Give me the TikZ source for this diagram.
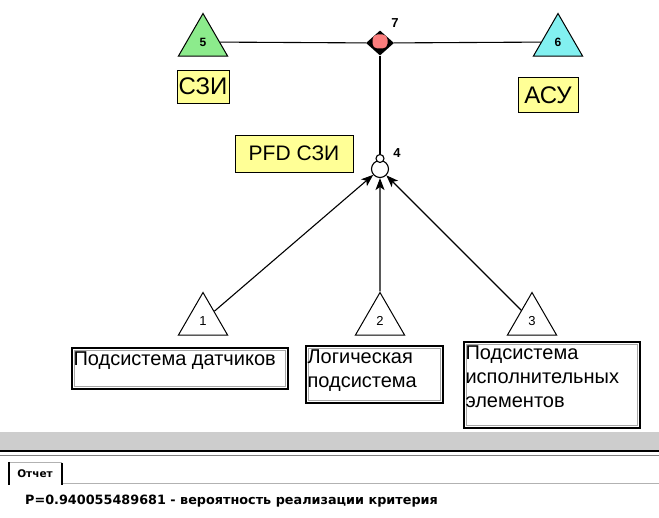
\documentclass[tikz,border=0pt]{standalone}
\usepackage{fontspec}
\setmainfont{Liberation Sans}
\newfontfamily\uifont{DejaVu Sans}
\usetikzlibrary{arrows.meta, shapes.geometric}

\definecolor{szigreen}{RGB}{140,235,140}
\definecolor{acucyan}{RGB}{130,240,240}
\definecolor{tagyellow}{RGB}{255,255,150}
\definecolor{corepink}{RGB}{250,125,125}
\definecolor{bandgray}{RGB}{205,205,205}

\begin{document}
\begin{tikzpicture}[x=1pt, y=-1pt,
    tri/.style={regular polygon, regular polygon sides=3, draw, line width=1pt,
      minimum size=57pt, inner sep=0pt, font=\fontsize{13}{13}\selectfont},
    tag/.style={fill=tagyellow, draw, line width=0.9pt, inner sep=1pt,
      font=\fontsize{24}{24}\selectfont},
    subbox/.style={draw, line width=1.3pt, inner sep=0pt},
    subtext/.style={anchor=north west, align=left, inner xsep=2pt, inner ysep=4pt,
      font=\fontsize{20}{24}\selectfont},
    arr/.style={line width=1.1pt, -{Stealth[length=12pt, width=9pt, inset=3pt]}},
    wire/.style={line width=1.1pt}]
    \useasboundingbox (0,0) rectangle (659,518);

    % Top level: the two events joined at gate 7
    \node[tri, fill=szigreen, font=\fontsize{12}{12}\selectfont\bfseries] (t5) at (203,42) {5};
    \node[tri, fill=acucyan, font=\fontsize{12}{12}\selectfont\bfseries] (t6) at (558,42) {6};
    \node[diamond, fill=black, minimum width=28pt, minimum height=25pt, inner sep=0pt] (n7) at (380,43) {};
    \node[rectangle, rounded corners=5pt, fill=corepink, minimum width=15pt, minimum height=14pt, inner sep=0pt] (n7core) at (380,41.5) {};
    \node[font=\fontsize{13}{13}\selectfont\bfseries] (l7) at (395,23) {7};
    \draw[wire] (t5) -- (n7);
    \draw[wire] (n7) -- (t6);

    % Labels of the top events
    \node[tag, minimum width=52pt, minimum height=33pt] (szi) at (203,86.5) {СЗИ};
    \node[tag, minimum width=60pt, minimum height=35pt] (acu) at (548,95) {АСУ};
    \node[tag, minimum width=118pt, minimum height=37pt, font=\fontsize{21}{21}\selectfont] (pfd) at (294,153.5) {PFD СЗИ\hspace{12pt}};

    % Gate 4
    \node[circle, draw, line width=1.1pt, minimum size=17pt, inner sep=0pt] (n4) at (380,169) {};
    \node[circle, draw, fill=white, line width=1.1pt, minimum size=8pt, inner sep=0pt] (n4top) at (380,158.5) {};
    \node[font=\fontsize{13}{13}\selectfont\bfseries] (l4) at (397,153) {4};
    \draw[wire] (n7) -- (n4top);

    % Subsystems 1..3
    \foreach \i/\x in {1/203, 2/380, 3/532} {
      \node[tri, fill=white] (t\i) at (\x,321) {\i};
      \draw[arr] (t\i) -- (n4);
    }

    % Subsystem captions
    \node[subbox, minimum width=216pt, minimum height=41pt] (b1) at (180,368.5) {};
    \node[subbox, minimum width=137pt, minimum height=57pt] (b2) at (374.5,374.5) {};
    \node[subbox, minimum width=176pt, minimum height=86pt] (b3) at (552,385) {};
    \foreach \b in {b1,b2,b3}
      \draw[gray!70, line width=0.8pt] ([shift={(3,3)}]\b.north west) rectangle ([shift={(-3,-3)}]\b.south east);
    \node[subtext] (b1text) at (b1.north west) {Подсистема датчиков};
    \node[subtext] (b2text) at (b2.north west) {Логическая\\подсистема};
    \node[subtext] (b3text) at (b3.north west) {Подсистема\\исполнительных\\элементов};

    % Report panel
    \fill[bandgray] (0,432) rectangle (659,450);
    \draw[line width=1.2pt] (0,451) -- (659,451);
    \draw[gray, line width=0.8pt] (0,455) -- (659,455);
    \draw[gray!60, line width=1pt] (62,484) -- (659,484);
    \node[font=\uifont\fontsize{10.5}{10.5}\selectfont\bfseries, inner sep=0pt] (tab) at (35,474) {Отчет};
    \draw[gray!60, line width=1pt] (10,463) -- (62,463);
    \draw[line width=1.6pt] (9,462) -- (9,485);
    \draw[line width=1.2pt] (62,463) -- (62,485);
    \node[anchor=west, inner sep=0pt, font=\uifont\fontsize{12.8}{12.8}\selectfont\bfseries] (result) at (25,501)
      {P=0.940055489681 - вероятность реализации критерия};
\end{tikzpicture}
\end{document}
